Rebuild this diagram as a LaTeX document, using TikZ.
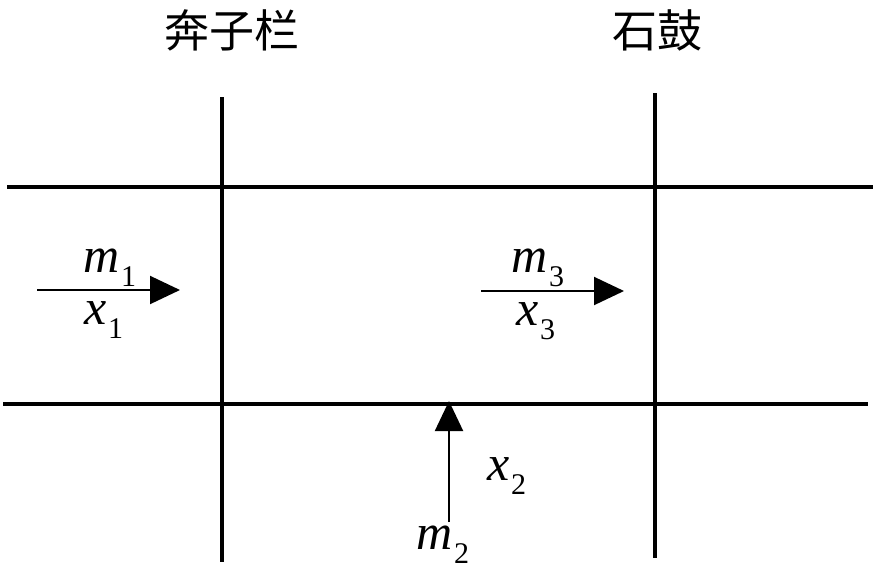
\documentclass[tikz,border=0pt]{standalone}
\usepackage{fontspec}
\setmainfont{Liberation Serif}
\newfontfamily\cjk{Noto Sans CJK SC}
\usetikzlibrary{arrows.meta}
\tikzset{
  grid/.style={line width=4pt},
  flow/.style={line width=2pt,-{Triangle[length=30pt,width=28pt]}},
  lab/.style={inner sep=0pt,font=\fontsize{50}{54}\selectfont},
  title/.style={inner sep=0pt,font=\fontsize{45}{50}\selectfont\cjk}
}
\newcommand{\vlab}[2]{\textit{#1}\kern1pt\raisebox{-0.28em}{\fontsize{30}{32}\selectfont #2}}
\begin{document}
\begin{tikzpicture}[x=1pt,y=-1pt]
\useasboundingbox (0,0) rectangle (875,573);
% grid lines
\draw[grid] (7,187) -- (873,187);
\draw[grid] (3,404) -- (868,404);
\draw[grid] (222,97) -- (222,562);
\draw[grid] (655,93) -- (655,558);
% titles
\node[title] (t1) at (232,30) {奔子栏};
\node[title] (t2) at (657,30) {石鼓};
% arrows
\coordinate (a1s) at (37,290);
\coordinate (a1e) at (180,290);
\coordinate (a3s) at (481,291);
\coordinate (a3e) at (624,291);
\coordinate (a2s) at (449,522);
\coordinate (a2e) at (449,401);
\draw[flow] (a1s) -- (a1e);
\draw[flow] (a3s) -- (a3e);
\draw[flow] (a2s) -- (a2e);
% labels
\node[lab] (m1) at (110,268) {\vlab{m}{1}};
\node[lab] (x1) at (104,320) {\vlab{x}{1}};
\node[lab] (m3) at (538,268) {\vlab{m}{3}};
\node[lab] (x3) at (536,321) {\vlab{x}{3}};
\node[lab] (x2) at (507,476) {\vlab{x}{2}};
\node[lab] (m2) at (443,545) {\vlab{m}{2}};
\end{tikzpicture}
\end{document}
